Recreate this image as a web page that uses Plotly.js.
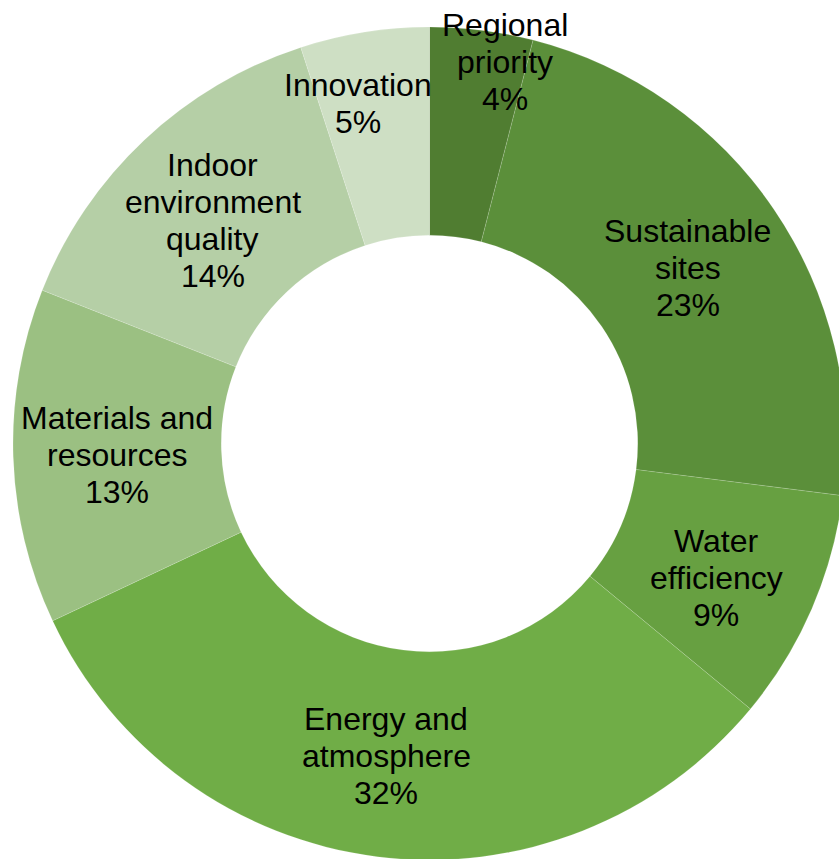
<!DOCTYPE html>
<html>
<head>
<meta charset="utf-8">
<script src="https://cdn.plot.ly/plotly-3.0.1.min.js"></script>
<style>
html,body{margin:0;padding:0;overflow:hidden;width:839px;height:859px;background:#fff;}
#chart{width:846px;height:860px;}
</style>
</head>
<body>
<div id="chart"></div>
<script>
// Data
const categories = ["Regional priority", "Sustainable sites", "Water efficiency", "Energy and atmosphere", "Materials and resources", "Indoor environment quality", "Innovation"];
const labelLines = [["Regional", "priority"], ["Sustainable", "sites"], ["Water", "efficiency"], ["Energy and", "atmosphere"], ["Materials and", "resources"], ["Indoor", "environment", "quality"], ["Innovation"]];
const values = [4, 23, 9, 32, 13, 14, 5];
const colors = ["#507d31", "#5b8f3a", "#67a041", "#70ad47", "#9bc082", "#b5cfa6", "#cedfc4"];

// Layout geometry (pixels)
const W = 846, H = 860, ML = 13, MT = 27;
const PW = W - ML, PH = H - MT;
const cx = ML + PW / 2, cy = MT + PH / 2;
const R = Math.min(PW, PH) / 2;
const holeFrac = 0.5;
const labelR = R * (1 + holeFrac) / 2;
// manual label nudges (px), like hand-placed data labels
const nudges = [[36, -72], [0, 0], [0, 10], [-4, 3], [0, 2], [-3, 5], [-23, -31]];
const lineGap = 37;
const fontSize = 32;

const total = values.reduce((a, b) => a + b, 0);
const annotations = [];
let cum = 0;
values.forEach((v, i) => {
  const mid = (cum + v / 2) / total * 2 * Math.PI;
  cum += v;
  const px = cx + labelR * Math.sin(mid) + nudges[i][0];
  const py = cy - labelR * Math.cos(mid) + nudges[i][1];
  const pct = Math.round(v / total * 100) + "%";
  const lines = labelLines[i].concat([pct]);
  lines.forEach((t, j) => {
    const ly = py + (j - (lines.length - 1) / 2) * lineGap;
    annotations.push({
      text: t,
      x: (px - ML) / PW,
      y: (H - ly) / PH,
      xref: "paper", yref: "paper",
      xanchor: "center", yanchor: "middle",
      showarrow: false,
      font: {family: "Liberation Sans, Arial, sans-serif", size: fontSize, color: "#000"}
    });
  });
});

const trace = {
  type: "pie",
  labels: categories,
  values: values,
  hole: holeFrac,
  sort: false,
  direction: "clockwise",
  rotation: 0,
  textinfo: "none",
  hoverinfo: "label+percent",
  marker: {colors: colors, line: {color: "rgba(255,255,255,0.3)", width: 0.5}},
  showlegend: false
};

const layout = {
  width: W, height: H,
  margin: {l: ML, r: 0, t: MT, b: 0, pad: 0},
  paper_bgcolor: "#fff",
  plot_bgcolor: "#fff",
  showlegend: false,
  annotations: annotations
};

Plotly.newPlot("chart", [trace], layout, {displayModeBar: false, staticPlot: true});
</script>
</body>
</html>
